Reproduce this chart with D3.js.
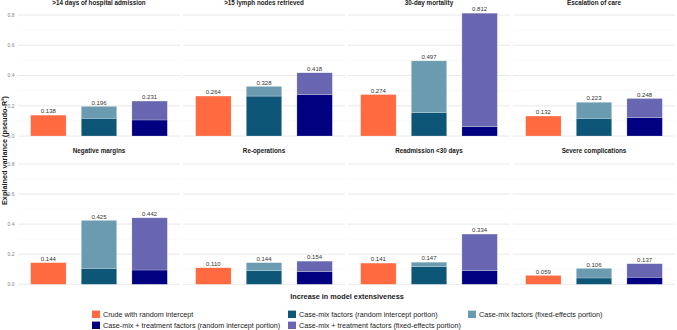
<!DOCTYPE html>
<html><head><meta charset="utf-8">
<script src="https://cdn.jsdelivr.net/npm/d3@7"></script>
<style>body{margin:0;background:#fff}svg{display:block;font-family:"Liberation Sans",Arial,sans-serif}</style>
</head><body><svg id="c" width="677" height="330"></svg>
<script>
const outcomes = [">14 days of hospital admission", ">15 lymph nodes retrieved", "30-day mortality", "Escalation of care",
  "Negative margins", "Re-operations", "Readmission <30 days", "Severe complications"];
const models = ["crude", "casemix", "treatment"];
const crudeTotal   = [0.138, 0.264, 0.274, 0.132, 0.144, 0.110, 0.141, 0.059];
const caseMixTotal = [0.196, 0.328, 0.497, 0.223, 0.425, 0.144, 0.147, 0.106];
const caseMixRI    = [0.117, 0.264, 0.154, 0.117, 0.106, 0.090, 0.117, 0.042];
const treatTotal   = [0.231, 0.418, 0.812, 0.248, 0.442, 0.154, 0.334, 0.137];
const treatRI      = [0.106, 0.273, 0.062, 0.121, 0.095, 0.084, 0.090, 0.047];
const yTicks = [0, 0.2, 0.4, 0.6, 0.8];
const yMinor = [0.1, 0.3, 0.5, 0.7];
const legendLabels = ["Crude with random intercept", "Case-mix factors (random intercept portion)", "Case-mix factors (fixed-effects portion)",
  "Case-mix + treatment factors (random intercept portion)", "Case-mix + treatment factors (fixed-effects portion)"];
const legendColors = ["#FF6A40", "#0E5677", "#6A9BB0", "#000080", "#6866B0"];

const svg = d3.select("#c");
const panelW = 162, panelX = [18, 183, 348, 513], rowZero = [136, 284.3], rowTop = [15, 164];

outcomes.forEach((name, i) => {
  const col = i % 4, row = Math.floor(i / 4);
  const x0 = panelX[col];
  const x = d3.scalePoint().domain(models).range([x0, x0 + panelW]).padding(0.6);
  const bw = x.step() * 0.7;
  const y = d3.scaleLinear().domain([0, 0.8]).range([rowZero[row], rowTop[row]]);
  const g = svg.append("g");
  g.selectAll(".mn").data(yMinor).join("line").attr("x1", x0).attr("x2", x0 + panelW)
    .attr("y1", d => y(d)).attr("y2", d => y(d)).attr("stroke", "#f2f2f2").attr("stroke-width", 0.5);
  g.selectAll(".mj").data(yTicks).join("line").attr("x1", x0).attr("x2", x0 + panelW)
    .attr("y1", d => y(d)).attr("y2", d => y(d)).attr("stroke", "#e8e8e8").attr("stroke-width", 0.9);
  if (col === 0) {
    svg.append("g").selectAll("text").data(yTicks).join("text")
      .attr("x", 14.5).attr("y", d => y(d)).attr("dy", "0.35em").attr("text-anchor", "end")
      .attr("font-size", 5).attr("fill", "#7f7f7f").text(d => d.toFixed(1));
  }
  const segs = [
    {m: "crude", y0: 0, y1: crudeTotal[i], c: legendColors[0]},
    {m: "casemix", y0: 0, y1: caseMixRI[i], c: legendColors[1]},
    {m: "casemix", y0: caseMixRI[i], y1: caseMixTotal[i], c: legendColors[2]},
    {m: "treatment", y0: 0, y1: treatRI[i], c: legendColors[3]},
    {m: "treatment", y0: treatRI[i], y1: treatTotal[i], c: legendColors[4]}
  ];
  g.selectAll("rect").data(segs).join("rect")
    .attr("x", d => x(d.m) - bw / 2).attr("width", bw)
    .attr("y", d => y(d.y1)).attr("height", d => y(d.y0) - y(d.y1))
    .attr("fill", d => d.c).attr("stroke", "#ffffff").attr("stroke-opacity", 0.45).attr("stroke-width", 0.5);
  const tots = [{m: "crude", v: crudeTotal[i]}, {m: "casemix", v: caseMixTotal[i]}, {m: "treatment", v: treatTotal[i]}];
  g.selectAll(".lab").data(tots).join("text")
    .attr("x", d => x(d.m)).attr("y", d => y(d.v) - 1.8).attr("text-anchor", "middle")
    .attr("font-size", 6).attr("fill", "#333").text(d => d.v.toFixed(3));
  svg.append("text").attr("x", x0 + panelW / 2).attr("y", row === 0 ? 5.3 : 153.4)
    .attr("text-anchor", "middle").attr("font-size", 6.3).attr("font-weight", "bold").attr("fill", "#1a1a1a").text(name);
});

svg.append("text").attr("transform", "translate(6.8,150.5) rotate(-90)").attr("text-anchor", "middle")
  .attr("font-size", 7.3).attr("font-weight", "bold").attr("fill", "#1a1a1a")
  .text("Explained variance (pseudo-R²)");

svg.append("text").attr("x", 347).attr("y", 298.6).attr("text-anchor", "middle")
  .attr("font-size", 7.3).attr("font-weight", "bold").attr("fill", "#1a1a1a").text("Increase in model extensiveness");

const legX = [92, 288, 468], legY = [310.6, 321.6];
legendLabels.forEach((lab, k) => {
  const r = Math.floor(k / 3), c = k % 3;
  const lg = svg.append("g").attr("transform", `translate(${legX[c]},${legY[r]})`);
  lg.append("rect").attr("width", 8).attr("height", 7.4).attr("fill", legendColors[k]);
  lg.append("text").attr("x", 11).attr("y", 3.7).attr("dy", "0.35em").attr("font-size", 7.2).attr("fill", "#1a1a1a").text(lab);
});
</script></body></html>
